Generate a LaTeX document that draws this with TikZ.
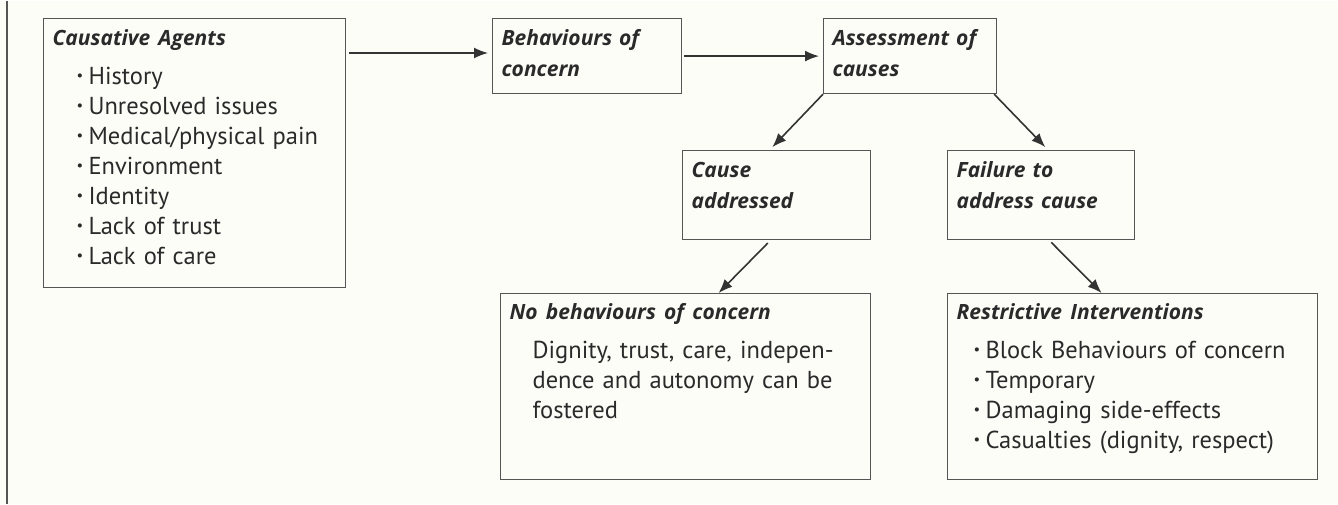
\documentclass[tikz,border=0pt]{standalone}
\usepackage{fontspec}
\setmainfont{PT Sans}
\newfontfamily\headfont{Open Sans}
\usepackage{xcolor}
\usepackage{graphicx}
\usepackage{tikz}
\usetikzlibrary{arrows.meta,positioning,calc}

\definecolor{paper}{HTML}{FDFDF8}
\definecolor{boxline}{HTML}{555555}
\definecolor{inkgray}{HTML}{2A2A2A}
\definecolor{arrowgray}{HTML}{333333}

\newcommand{\hd}{\headfont\fontsize{21}{31}\selectfont\bfseries\itshape}
\newcommand{\bd}{\fontsize{24.5}{30}\selectfont}
\newcommand{\itm}[1][24pt]{\hspace*{#1}\makebox[12pt][l]{\raisebox{.3ex}{\scalebox{.6}{\textbullet}}}}

\begin{document}
\begin{tikzpicture}[
    x=1pt, y=-1pt,
    block/.style={draw=boxline, line width=1.2pt, anchor=north west, inner xsep=9pt, inner ysep=0pt, align=left, text=inkgray, font=\bd},
    line/.style={draw, -{Latex[length=14pt,width=11pt]}, line width=1.6pt, color=arrowgray}
]
    % Page
    \fill [paper] (0,0) rectangle (1338,503);
    \draw [boxline, line width=2pt] (7,0) -- (7,503);

    % Top row
    \node [block, text width=284pt, text height=27pt, text depth=242pt] (agents) at (43,17) {{\hd Causative Agents}\\[9pt]
        \itm History\\ \itm Unresolved issues\\ \itm Medical/physical pain\\ \itm Environment\\
        \itm Identity\\ \itm Lack of trust\\ \itm Lack of care};
    \node [block, font=\hd, text width=171pt, text height=27pt, text depth=48pt] (concern) at (492,17) {Behaviours of\\ concern};
    \node [block, font=\hd, text width=155pt, text height=27pt, text depth=48pt] (assess) at (823,17) {Assessment of\\ causes};

    % Outcomes
    \node [block, font=\hd, text width=170pt, text height=27pt, text depth=62pt] (cause) at (682,149) {Cause\\ addressed};
    \node [block, font=\hd, text width=169pt, text height=27pt, text depth=62pt] (fail) at (947,149) {Failure to\\ address cause};

    \node [block, text width=352pt, text height=26pt, text depth=160pt] (nobeh) at (500,292) {{\hd No behaviours of concern}\\[9pt]
        \hspace*{23pt}Dignity, trust, care, indepen-\\ \hspace*{23pt}dence and autonomy can be\\ \hspace*{23pt}fostered};
    \node [block, text width=352pt, text height=26pt, text depth=160pt] (restrict) at (947,292) {{\hd Restrictive Interventions}\\[9pt]
        \itm[17pt]Block Behaviours of concern\\ \itm[17pt]Temporary\\ \itm[17pt]Damaging side-effects\\
        \itm[17pt]Casualties (dignity, respect)};

    % Routing
    \path [line, shorten <=3pt, shorten >=4pt] ([yshift=-35pt]agents.north east) -- ([yshift=-35pt]concern.north west);
    \path [line, shorten <=2pt, shorten >=4pt] (concern) -- (assess);

    \path [line, shorten >=4pt] (assess.south west) -- ([xshift=-7pt]cause.north);
    \path [line, shorten >=4pt] ([xshift=-3pt]assess.south east) -- ([xshift=7pt]fail.north);

    \path [line, shorten <=4pt] ([xshift=-6pt]cause.south) -- ([xshift=33pt]nobeh.north);
    \path [line, shorten <=3pt] ([xshift=8pt]fail.south) -- ([xshift=-31pt]restrict.north);
\end{tikzpicture}
\end{document}
